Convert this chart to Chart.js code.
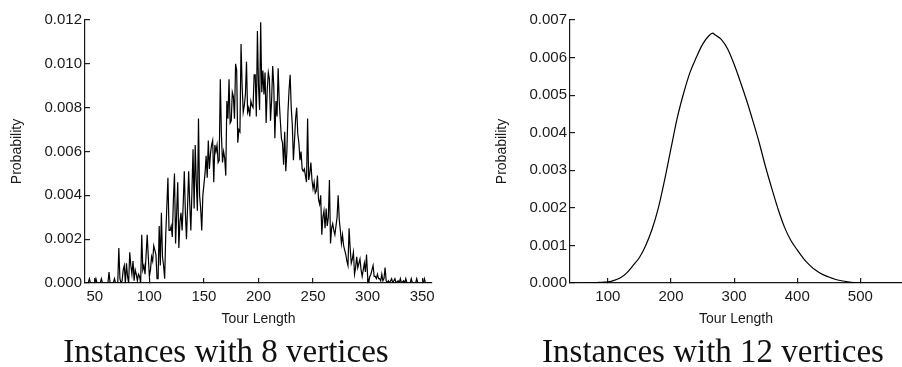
<!DOCTYPE html>
<html>
<head>
<meta charset="utf-8">
<script src="https://cdn.jsdelivr.net/npm/chart.js@4"></script>
<style>
	body { margin: 0; background: #fff; }
	#wrap { position: relative; width: 902px; height: 367px; overflow: hidden; }
	canvas { position: absolute; top: 0; }
	#c8 { left: 0; }
	#c12 { left: 450px; }
	.caption {
		position: absolute; top: 333px; width: 420px; text-align: center;
		font-family: 'Liberation Serif', 'Times New Roman', serif; font-size: 33px; color: #111;
		white-space: nowrap;
	}
</style>
</head>
<body>
<div id="wrap">
	<canvas id="c8" width="450" height="340"></canvas>
	<canvas id="c12" width="452" height="340"></canvas>
	<div class="caption" id="cap8" style="left: 16px;">Instances with 8 vertices</div>
	<div class="caption" id="cap12" style="left: 503px;">Instances with 12 vertices</div>
</div>
<script>
// 8 vertices: tour length -> probability (noisy histogram)
const lengths8 = [
	41, 44, 45, 46, 50, 51, 52, 55, 56, 57,
	62, 63, 64, 67, 68, 69, 71,
	72, 73, 74, 75, 76, 77, 78, 79, 80, 81,
	82, 83, 84, 85, 86, 87, 88, 89, 90, 91,
	92, 93, 94, 95, 96, 97, 98, 99, 100, 101,
	102, 103, 104, 105, 106, 107, 108, 109, 110, 111,
	112, 113, 114, 115, 116, 117, 118, 119, 120, 121,
	122, 123, 124, 125, 126, 127, 128, 129, 130, 131,
	132, 133, 134, 135, 136, 137, 138, 139, 140, 141,
	142, 143, 144, 145, 146, 147, 148, 149, 150, 151,
	152, 153, 154, 155, 156, 157, 158, 159, 160, 161,
	162, 163, 164, 165, 166, 167, 168, 169, 170, 171,
	172, 173, 174, 175, 176, 177, 178, 179, 180, 181,
	182, 183, 184, 185, 186, 187, 188, 189, 190, 191,
	192, 193, 194, 195, 196, 197, 198, 199, 200, 201,
	202, 203, 204, 205, 206, 207, 208, 209, 210, 211,
	212, 213, 214, 215, 216, 217, 218, 219, 220, 221,
	222, 223, 224, 225, 226, 227, 228, 229, 230, 231,
	232, 233, 234, 235, 236, 237, 238, 239, 240, 241,
	242, 243, 244, 245, 246, 247, 248, 249, 250, 251,
	252, 253, 254, 255, 256, 257, 258, 259, 260, 261,
	262, 263, 264, 265, 266, 267, 268, 269, 270, 271,
	272, 273, 274, 275, 276, 277, 278, 279, 280, 281,
	282, 283, 284, 285, 286, 287, 288, 289, 290, 291,
	292, 293, 294, 295, 296, 297, 298, 299, 300, 301,
	302, 303, 304, 305, 306, 307, 308, 309, 310, 311,
	312, 313, 314, 315, 316, 317, 318, 319, 320,
	322, 323, 325, 326, 328, 329, 330, 331, 333, 334, 335, 336,
	339, 340, 341, 344, 345, 346, 351, 352, 353, 358
];
const prob8 = [
	0, 0, 0.0002, 0, 0, 0.0002, 0, 0, 0.0002, 0,
	0, 0.0005, 0, 0, 0.0002, 0, 0,
	0.0016, 0.0002, 0, 0.0001, 0.0006, 0.0008, 0, 0.0009, 0.0003, 0,
	0.0014, 0.0008, 0.0004, 0.0010, 0.0001, 0.0006, 0.0004, 0.0001, 0.0004, 0.0003,
	0, 0.0022, 0.0006, 0.0008, 0.0004, 0.0013, 0.0022, 0.0012, 0.0003, 0.0006,
	0.0012, 0.0010, 0.0017, 0.0015, 0.0013, 0.0002, 0.0002, 0.0026, 0.0008, 0.0032,
	0.0012, 0.0008, 0.0002, 0.0022, 0.0035, 0.0048, 0.0024, 0.0024, 0.0026, 0.0021,
	0.0038, 0.0050, 0.0018, 0.0032, 0.0046, 0.0016, 0.0028, 0.0032, 0.0024, 0.0036,
	0.0051, 0.0032, 0.0020, 0.0035, 0.0051, 0.0036, 0.0024, 0.0042, 0.0061, 0.0034,
	0.0063, 0.0046, 0.0033, 0.0075, 0.0040, 0.0034, 0.0024, 0.0040, 0.0045, 0.0050,
	0.0058, 0.0048, 0.0065, 0.0052, 0.0059, 0.0063, 0.0065, 0.0046, 0.0063, 0.0060,
	0.0063, 0.0055, 0.0056, 0.0093, 0.0068, 0.0055, 0.0060, 0.0057, 0.0049, 0.0083,
	0.0075, 0.0093, 0.0073, 0.0074, 0.0087, 0.0085, 0.0075, 0.0100, 0.0097, 0.0064,
	0.0070, 0.0069, 0.0109, 0.0090, 0.0078, 0.0081, 0.0086, 0.0101, 0.0078, 0.0080,
	0.0076, 0.0083, 0.0081, 0.0080, 0.0095, 0.0095, 0.0076, 0.0115, 0.0090, 0.0079,
	0.0119, 0.0087, 0.0097, 0.0086, 0.0096, 0.0073, 0.0088, 0.0096, 0.0093, 0.0074,
	0.0083, 0.0099, 0.0090, 0.0066, 0.0083, 0.0076, 0.0098, 0.0083, 0.0074, 0.0066,
	0.0064, 0.0054, 0.0069, 0.0051, 0.0060, 0.0078, 0.0088, 0.0095, 0.0080, 0.0072,
	0.0056, 0.0065, 0.0075, 0.0080, 0.0068, 0.0064, 0.0056, 0.0060, 0.0052, 0.0051,
	0.0052, 0.0049, 0.0046, 0.0075, 0.0047, 0.0050, 0.0055, 0.0047, 0.0043, 0.0046,
	0.0041, 0.0042, 0.0049, 0.0038, 0.0036, 0.0040, 0.0022, 0.0030, 0.0033, 0.0025,
	0.0034, 0.0026, 0.0030, 0.0047, 0.0018, 0.0025, 0.0027, 0.0024, 0.0022, 0.0026,
	0.0030, 0.0040, 0.0029, 0.0024, 0.0018, 0.0022, 0.0017, 0.0015, 0.0013, 0.0010,
	0.0008, 0.0025, 0.0016, 0.0009, 0.0011, 0.0014, 0.0004, 0.0007, 0.0012, 0.0007,
	0.0009, 0.0011, 0.0006, 0.0003, 0.0006, 0.0009, 0.0005, 0.0013, 0.0003, 0,
	0.0003, 0.0004, 0.0006, 0.0008, 0.0003, 0.0003, 0.0002, 0.0004, 0.0002, 0.0002,
	0.0001, 0.0004, 0.0001, 0.0002, 0.0007, 0.0001, 0, 0.0001, 0,
	0.0002, 0, 0.0002, 0, 0.0001, 0, 0.0002, 0, 0.0001, 0, 0.0002, 0,
	0, 0.0002, 0, 0, 0.0002, 0, 0, 0.0002, 0, 0
];
const xTicks8 = [50, 100, 150, 200, 250, 300, 350];
const yTicks8 = [0, 0.002, 0.004, 0.006, 0.008, 0.010, 0.012];

// 12 vertices: smooth distribution
const lengths12 = [
	40, 50, 60, 70, 80, 90, 100, 110, 120, 130, 140, 150, 160, 170, 180, 190, 200,
	210, 220, 230, 240, 250, 260, 266, 270, 280, 290, 300, 310, 320, 330, 340, 350,
	360, 370, 380, 390, 400, 410, 420, 430, 440, 450, 460, 470, 480, 490, 500, 520, 540, 567
];
const prob12 = [
	0, 0, 0, 0.000005, 0.00001, 0.00002, 0.00003, 0.00007, 0.00014, 0.00027, 0.00047, 0.00068, 0.001, 0.00143, 0.002, 0.00275, 0.00358,
	0.0044, 0.00505, 0.0056, 0.006, 0.00635, 0.00658, 0.00665, 0.0066, 0.00648, 0.00622, 0.00582, 0.00535, 0.00485, 0.0043, 0.00372, 0.00308,
	0.0025, 0.00195, 0.00148, 0.00113, 0.00088, 0.00065, 0.00047, 0.00033, 0.00023, 0.00016, 0.0001, 0.00006, 0.00003, 0.00001, 0, 0, 0, 0
];
const xTicks12 = [100, 200, 300, 400, 500];
const yTicks12 = [0, 0.001, 0.002, 0.003, 0.004, 0.005, 0.006, 0.007];

const tickFont = { family: "'Liberation Sans', Arial, sans-serif", size: 15 };
const titleFont = { family: "'Liberation Sans', Arial, sans-serif", size: 14 };
const ink = '#1a1a1a';

function makeChart(id, xs, ys, opts) {
	const ctx = document.getElementById(id).getContext('2d');
	return new Chart(ctx, {
		type: 'line',
		data: {
			datasets: [{
				data: xs.map((x, i) => ({ x, y: ys[i] })),
				borderColor: '#000',
				borderWidth: 1.2,
				pointRadius: 0,
				tension: 0,
				cubicInterpolationMode: opts.smooth ? 'monotone' : 'default'
			}]
		},
		options: {
			responsive: false,
			animation: false,
			devicePixelRatio: 1,
			layout: { padding: { top: 20, right: opts.padRight, left: 0, bottom: 0 } },
			plugins: { legend: { display: false }, tooltip: { enabled: false } },
			scales: {
				x: {
					type: 'linear',
					min: opts.xMin,
					max: opts.xMax,
					afterFit: s => { s.height = 57; },
					afterBuildTicks: s => { s.ticks = opts.xTicks.map(v => ({ value: v })); },
					border: { color: ink, width: 1.2 },
					grid: { drawOnChartArea: false, tickLength: -5, color: ink, lineWidth: 1.2 },
					ticks: { font: tickFont, color: ink, padding: 10, maxRotation: 0 },
					title: { display: true, text: 'Tour Length', font: titleFont, color: ink, padding: { top: 0, bottom: 12 } }
				},
				y: {
					min: 0,
					max: opts.yMax,
					afterFit: s => { s.width = opts.yWidth; },
					afterBuildTicks: s => { s.ticks = opts.yTicks.map(v => ({ value: v })); },
					border: { color: ink, width: 1.2 },
					grid: { drawOnChartArea: false, tickLength: -5, color: ink, lineWidth: 1.2 },
					ticks: { font: tickFont, color: ink, padding: 8, callback: v => v.toFixed(3) },
					title: { display: true, text: 'Probability', font: titleFont, color: ink, padding: { top: opts.titlePad, bottom: 0 } }
				}
			}
		}
	});
}

makeChart('c8', lengths8, prob8, {
	xMin: 41, xMax: 359, yMax: 0.012, xTicks: xTicks8, yTicks: yTicks8,
	yWidth: 85, padRight: 18, smooth: false, titlePad: 9
});
makeChart('c12', lengths12, prob12, {
	xMin: 40, xMax: 566, yMax: 0.007, xTicks: xTicks12, yTicks: yTicks12,
	yWidth: 120, padRight: 0, smooth: true, titlePad: 44
});
</script>
</body>
</html>
